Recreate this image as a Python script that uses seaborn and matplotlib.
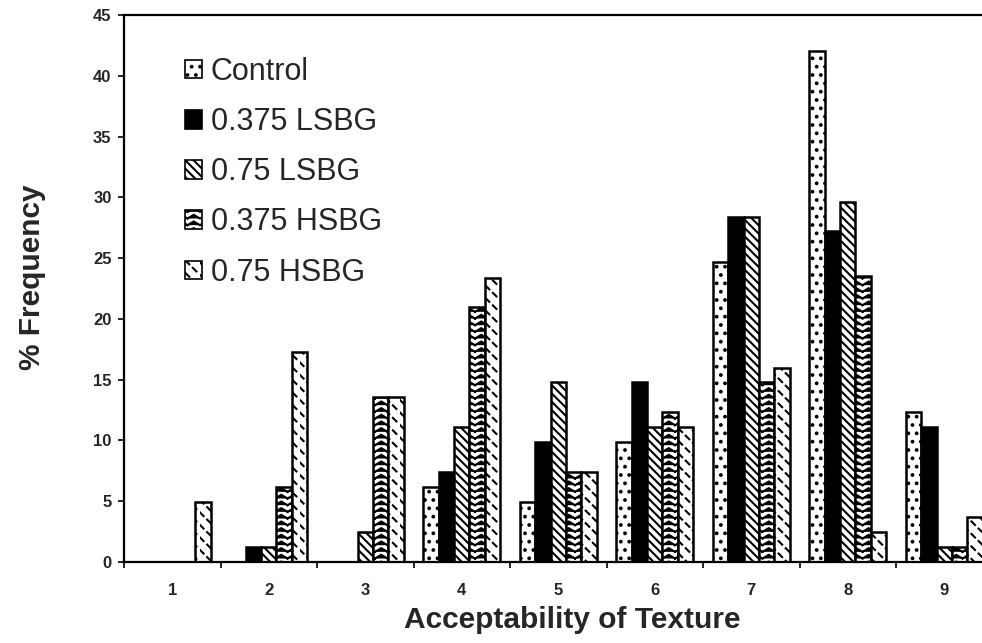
import warnings
warnings.filterwarnings("ignore")
import matplotlib
matplotlib.use("Agg")
import matplotlib.pyplot as plt
import matplotlib.hatch as mhatch
from matplotlib.path import Path
from matplotlib.patches import Patch
import seaborn as sns
import pandas as pd

scores = ["1", "2", "3", "4", "5", "6", "7", "8", "9"]
series = ["Control", "0.375 LSBG", "0.75 LSBG", "0.375 HSBG", "0.75 HSBG"]
control = [0, 0, 0, 6.2, 4.9, 9.9, 24.7, 42.0, 12.3]
lsbg_0375 = [0, 1.2, 0, 7.4, 9.9, 14.8, 28.4, 27.2, 11.1]
lsbg_075 = [0, 1.2, 2.5, 11.1, 14.8, 11.1, 28.4, 29.6, 1.2]
hsbg_0375 = [0, 6.2, 13.6, 21.0, 7.4, 12.3, 14.8, 23.5, 1.2]
hsbg_075 = [4.9, 17.3, 13.6, 23.4, 7.4, 11.1, 16.0, 2.5, 3.7]
yticks = [0, 5, 10, 15, 20, 25, 30, 35, 40, 45]


class ChevronHatch(mhatch.HatchPatternBase):
    """Stacked upward chevrons, selected with '^'."""
    def __init__(self, hatch, density):
        n = hatch.count("^")
        self.rows = 15 * n
        self.cols = 8 * n
        self.num_vertices = self.rows * self.cols * 3 if n else 0

    def set_vertices_and_codes(self, vertices, codes):
        k = 0
        h = 0.55 / self.rows
        for r in range(self.rows):
            y = (r + 0.5) / self.rows
            for c in range(self.cols):
                x0 = c / self.cols
                x1 = (c + 0.5) / self.cols
                x2 = (c + 1) / self.cols
                vertices[k] = (x0, y - h / 2)
                vertices[k + 1] = (x1, y + h / 2)
                vertices[k + 2] = (x2, y - h / 2)
                codes[k] = Path.MOVETO
                codes[k + 1] = Path.LINETO
                codes[k + 2] = Path.LINETO
                k += 3


class DashedBackHatch(mhatch.HatchPatternBase):
    """Dashed back-diagonal lines, selected with '~'."""
    def __init__(self, hatch, density):
        n = hatch.count("~")
        self.lines = 8 * n
        self.dashes = 14
        self.num_vertices = 2 * self.lines * self.dashes * 2 if n else 0

    def set_vertices_and_codes(self, vertices, codes):
        k = 0
        for i in range(2 * self.lines):
            c = i / self.lines
            for d in range(self.dashes):
                xa = d / self.dashes
                xb = xa + 0.5 / self.dashes
                vertices[k] = (xa, c - xa)
                vertices[k + 1] = (xb, c - xb)
                codes[k] = Path.MOVETO
                codes[k + 1] = Path.LINETO
                k += 2


mhatch._hatch_types.append(ChevronHatch)
mhatch._hatch_types.append(DashedBackHatch)

values = [control, lsbg_0375, lsbg_075, hsbg_0375, hsbg_075]
rows = []
for s, vals in zip(series, values):
    for c, v in zip(scores, vals):
        rows.append({"score": c, "series": s, "value": v})
df = pd.DataFrame(rows)

sns.set_style("white")
plt.rcParams["font.family"] = ["Liberation Sans", "DejaVu Sans"]
plt.rcParams["hatch.linewidth"] = 1.5

fig = plt.figure(figsize=(9.82, 6.43), dpi=100)
ax = fig.add_axes([124 / 982, 81 / 643, 868.5 / 982, 547 / 643])

fills = ["white", "black", "white", "white", "white"]
hatches = ["..", None, "\\\\\\\\", "^", "~"]

sns.barplot(data=df, x="score", y="value", hue="series", order=scores,
            hue_order=series, width=0.8, gap=0, ax=ax, legend=False,
            palette=["white"] * 5, edgecolor="black", linewidth=1.8,
            saturation=1, errorbar=None)

for cont, fc, h in zip(ax.containers, fills, hatches):
    for p in cont:
        p.set_facecolor(fc)
        p.set_edgecolor("black")
        if h:
            p.set_hatch(h)

handles = [Patch(facecolor=fc, edgecolor="black", hatch=h, linewidth=1.2)
           for fc, h in zip(fills, hatches)]
ax.legend(handles, series, loc="upper left",
          bbox_to_anchor=((185 - 124) / 868.5, (562 - 57) / 547),
          frameon=False, fontsize=22, handlelength=0.55, handleheight=0.55,
          handletextpad=0.3, labelspacing=0.66, borderaxespad=0, borderpad=0)

ax.set_xlim(-0.5, 8.5)
ax.set_ylim(0, 45)
ax.set_yticks(yticks)
ax.set_yticklabels([str(t) for t in yticks], fontsize=12, fontweight="bold")
ax.set_xticks(range(len(scores)))
ax.set_xticklabels(scores, fontsize=12, fontweight="bold")
ax.set_xticks([i - 0.5 for i in range(len(scores) + 1)], minor=True)
ax.tick_params(axis="x", which="major", length=0, pad=15)
ax.tick_params(axis="x", which="minor", length=4, width=1.2, direction="out", color="black")
ax.tick_params(axis="y", length=4, width=1.2, direction="out", color="black", pad=5)
ax.xaxis.set_ticks_position("bottom")
ax.yaxis.set_ticks_position("left")

for side in ["left", "bottom", "top", "right"]:
    ax.spines[side].set_visible(True)
    ax.spines[side].set_color("black")
    ax.spines[side].set_linewidth(1.6)

ax.set_xlabel("Acceptability of Texture", fontsize=21.5, fontweight="bold")
ax.set_ylabel("% Frequency", fontsize=21.5, fontweight="bold")
ax.xaxis.set_label_coords((572 - 124) / 868.5, -(620 - 562) / 547)
ax.yaxis.set_label_coords((32 - 124) / 868.5, (562 - 277) / 547)
ax.xaxis.label.set_verticalalignment("center")
ax.yaxis.label.set_verticalalignment("center")

fig.savefig("out.png", dpi=100)
